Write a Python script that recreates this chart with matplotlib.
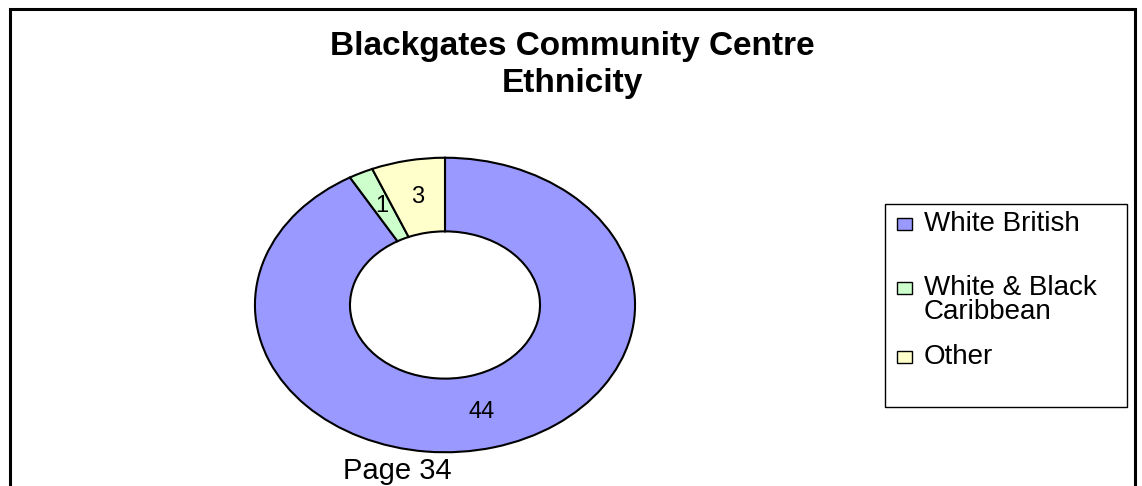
import matplotlib
matplotlib.use("Agg")
import matplotlib.pyplot as plt
from matplotlib.patches import Rectangle

plt.rcParams["font.family"] = ["Liberation Sans", "DejaVu Sans"]

# Data
categories = ["White British", "White & Black\nCaribbean", "Other"]
counts = [44, 1, 3]
colors = ["#9999FF", "#CCFFCC", "#FFFFCC"]
title_lines = ["Blackgates Community Centre", "Ethnicity"]
footer_text = "Page 34"

W, H = 1142, 486
fig = plt.figure(figsize=(W / 100, H / 100), dpi=100)
fig.patch.set_facecolor("white")


def fx(px):
    return px / W


def fy(py):
    return (H - py) / H


# Outer chart frame (bottom edge runs off the page)
fig.patches.append(Rectangle((fx(10), fy(520)), fx(1135) - fx(10), fy(9) - fy(520),
                             transform=fig.transFigure, fill=False,
                             edgecolor="black", linewidth=2.2, zorder=0))

# Title, one line at a time
for line, ypix in zip(title_lines, [46, 83]):
    fig.text(fx(572), fy(ypix), line, ha="center", va="center",
             fontsize=24, fontweight="bold")

# Doughnut
ax = fig.add_axes([fx(254), fy(453), fx(636) - fx(254), fy(157) - fy(453)])
total = sum(counts)
wedges, texts, autotexts = ax.pie(
    counts, colors=colors, startangle=90, counterclock=False,
    radius=1.0, pctdistance=0.75,
    autopct=lambda p: f"{round(p * total / 100)}",
    wedgeprops=dict(width=0.5, edgecolor="black", linewidth=1.5),
    textprops=dict(fontsize=17, color="black"))
ax.set_aspect("auto")
ax.set_xlim(-1.005, 1.005)
ax.set_ylim(-1.005, 1.005)
ax.axis("off")

# Legend box
fig.patches.append(Rectangle((fx(885), fy(407)), fx(1127) - fx(885), fy(204) - fy(407),
                             transform=fig.transFigure, facecolor="white",
                             edgecolor="black", linewidth=1.0, zorder=1))
text_rows = [224, 300, 357]
for label, color, yrow in zip(categories, colors, text_rows):
    marker_y = yrow if "\n" not in label else yrow - 12
    fig.patches.append(Rectangle((fx(897), fy(marker_y + 6)), fx(912) - fx(897),
                                 fy(marker_y - 6) - fy(marker_y + 6),
                                 transform=fig.transFigure, facecolor=color,
                                 edgecolor="black", linewidth=1.0, zorder=2))
    fig.text(fx(924), fy(yrow), label, ha="left", va="center",
             fontsize=20, linespacing=0.92, zorder=3)

# Page footer
fig.text(fx(397), fy(479), footer_text, ha="center", va="baseline", fontsize=21)

fig.savefig("out.png", dpi=100)
